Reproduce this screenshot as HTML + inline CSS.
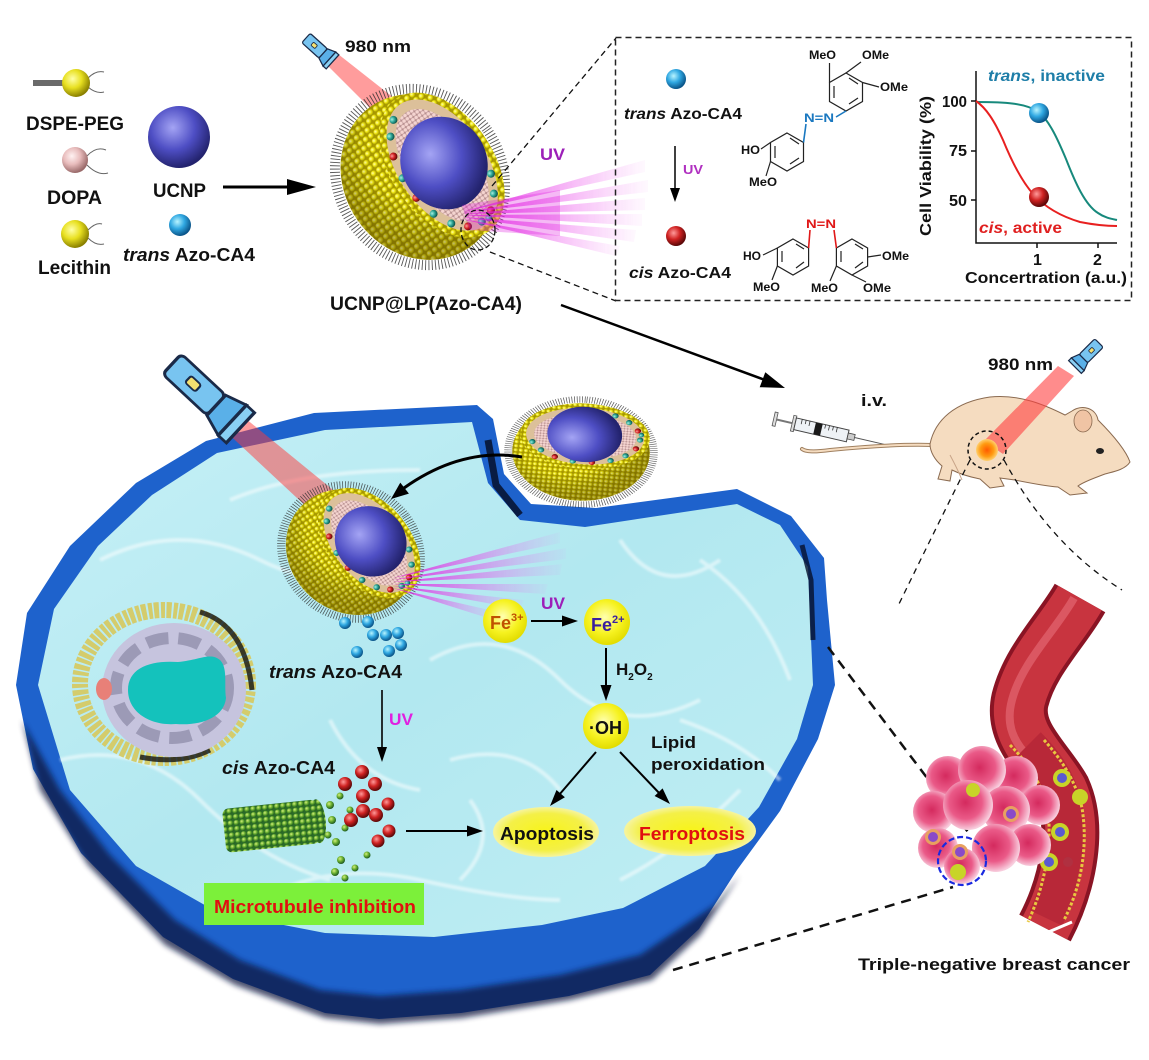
<!DOCTYPE html>
<html><head><meta charset="utf-8"><style>
html,body{margin:0;padding:0;background:#fff;}
svg{display:block;}
text{font-family:"Liberation Sans",Arial,sans-serif;font-weight:bold;fill:#111;}
</style></head><body>
<svg width="1149" height="1060" viewBox="0 0 1149 1060" xmlns="http://www.w3.org/2000/svg" xmlns:xlink="http://www.w3.org/1999/xlink">
<defs>
<radialGradient id="yg" cx="0.38" cy="0.35" r="0.65"><stop offset="0" stop-color="#ffffb8"/><stop offset="0.45" stop-color="#f2ea14"/><stop offset="1" stop-color="#9c8e00"/></radialGradient>
<pattern id="yd" width="6.5" height="6.5" patternUnits="userSpaceOnUse"><rect width="6.5" height="6.5" fill="#a89800"/><circle cx="3.25" cy="3.25" r="3.1" fill="url(#yg)"/></pattern>
<pattern id="pd" width="4" height="4" patternUnits="userSpaceOnUse"><rect width="4" height="4" fill="#b89090"/><circle cx="2" cy="2" r="1.8" fill="#f4d4d0"/></pattern>
<radialGradient id="gg" cx="0.38" cy="0.35" r="0.65"><stop offset="0" stop-color="#d8f080"/><stop offset="0.5" stop-color="#6ab030"/><stop offset="1" stop-color="#1e5a20"/></radialGradient>
<pattern id="gd" width="6" height="6" patternUnits="userSpaceOnUse"><rect width="6" height="6" fill="#2a6a28"/><circle cx="3" cy="3" r="2.9" fill="url(#gg)"/></pattern>
<radialGradient id="shade" cx="0.62" cy="0.38" r="0.6"><stop offset="0.6" stop-color="#000" stop-opacity="0"/><stop offset="1" stop-color="#403000" stop-opacity="0.35"/></radialGradient>
<radialGradient id="purp" cx="0.4" cy="0.35" r="0.65"><stop offset="0" stop-color="#a4a4f4"/><stop offset="0.55" stop-color="#4e4ec4"/><stop offset="1" stop-color="#23236e"/></radialGradient>
<radialGradient id="ball-y" cx="0.38" cy="0.35" r="0.65"><stop offset="0" stop-color="#ffffa8"/><stop offset="0.5" stop-color="#e8e020"/><stop offset="1" stop-color="#8a8000"/></radialGradient>
<radialGradient id="ball-p" cx="0.38" cy="0.35" r="0.65"><stop offset="0" stop-color="#fff2f2"/><stop offset="0.5" stop-color="#e8bcbc"/><stop offset="1" stop-color="#9a6a6a"/></radialGradient>
<radialGradient id="ball-b" cx="0.38" cy="0.35" r="0.65"><stop offset="0" stop-color="#b8f4ff"/><stop offset="0.5" stop-color="#30a8e2"/><stop offset="1" stop-color="#0a5488"/></radialGradient>
<radialGradient id="ball-r" cx="0.38" cy="0.35" r="0.65"><stop offset="0" stop-color="#ff9a9a"/><stop offset="0.5" stop-color="#d02222"/><stop offset="1" stop-color="#5a0808"/></radialGradient>
<radialGradient id="ball-t" cx="0.38" cy="0.35" r="0.65"><stop offset="0" stop-color="#a8f0e0"/><stop offset="0.5" stop-color="#30a898"/><stop offset="1" stop-color="#0a5048"/></radialGradient>
<radialGradient id="fe" cx="0.45" cy="0.4" r="0.6"><stop offset="0" stop-color="#ffffb0"/><stop offset="0.6" stop-color="#f6f220"/><stop offset="1" stop-color="#e2dc00"/></radialGradient>
<radialGradient id="ell" cx="0.5" cy="0.5" r="0.5"><stop offset="0" stop-color="#f8f418"/><stop offset="0.75" stop-color="#f4f048"/><stop offset="1" stop-color="#f6f4a0"/></radialGradient>
<radialGradient id="tum" cx="0.45" cy="0.45" r="0.55"><stop offset="0" stop-color="#d42a5e"/><stop offset="0.6" stop-color="#ea5a88"/><stop offset="1" stop-color="#f8cede"/></radialGradient>
<radialGradient id="spot" cx="0.5" cy="0.5" r="0.5"><stop offset="0" stop-color="#ff5a00"/><stop offset="0.6" stop-color="#ff9a10"/><stop offset="1" stop-color="#ffd070"/></radialGradient>
<linearGradient id="cyt" x1="0" y1="0" x2="1" y2="1"><stop offset="0" stop-color="#c6f0f6"/><stop offset="0.5" stop-color="#b2e8f0"/><stop offset="1" stop-color="#c0eef4"/></linearGradient>
<linearGradient id="mag" x1="0" y1="0" x2="1" y2="0"><stop offset="0" stop-color="#e010e0" stop-opacity="0.95"/><stop offset="1" stop-color="#f070f0" stop-opacity="0.05"/></linearGradient>
<filter id="blur3"><feGaussianBlur stdDeviation="3"/></filter>
<filter id="blur1"><feGaussianBlur stdDeviation="1"/></filter>
<g id="np">
  <ellipse rx="82" ry="91" transform="rotate(-35)" fill="none" stroke="#2a2a2a" stroke-width="10" stroke-dasharray="0.9 2.4" opacity="0.8"/>
  <ellipse rx="76" ry="86" transform="rotate(-35)" fill="url(#yd)"/>
  <ellipse rx="76" ry="86" transform="rotate(-35)" fill="url(#shade)"/>
  <g transform="rotate(-35) translate(25,3)">
    <ellipse rx="51" ry="81" fill="url(#yd)"/>
    <ellipse rx="44" ry="74" fill="#dcc09a"/>
    <ellipse rx="35" ry="64" fill="url(#pd)"/>
    <circle cx="0" cy="69" r="4" fill="url(#ball-t)"/>
    <circle cx="-14" cy="65" r="4" fill="url(#ball-r)"/>
    <circle cx="-26" cy="53" r="4" fill="url(#ball-t)"/>
    <circle cx="-35" cy="35" r="4" fill="url(#ball-t)"/>
    <circle cx="-40" cy="12" r="4" fill="url(#ball-r)"/>
    <circle cx="-40" cy="-12" r="4" fill="url(#ball-t)"/>
    <circle cx="-35" cy="-35" r="4" fill="url(#ball-r)"/>
    <circle cx="-26" cy="-53" r="4" fill="url(#ball-t)"/>
    <circle cx="-14" cy="-65" r="4" fill="url(#ball-t)"/>
    <circle cx="14" cy="65" r="4" fill="url(#ball-r)"/>
    <circle cx="26" cy="53" r="4" fill="url(#ball-t)"/>
    <circle cx="35" cy="35" r="4" fill="url(#ball-t)"/>
    <circle cx="8" cy="70" r="3.5" fill="url(#ball-t)"/>
  </g>
  <ellipse cx="24" cy="-14" rx="43" ry="47" transform="rotate(-25 24 -14)" fill="url(#purp)"/>
</g>
<g id="flash">
  <rect x="0" y="-6" width="22" height="12" rx="2" fill="#78c4f0" stroke="#1a2a48" stroke-width="1.2"/>
  <path d="M22,-6 L30,-9 L30,9 L22,6 Z" fill="#5ab0e8" stroke="#1a2a48" stroke-width="1.2"/>
  <rect x="30" y="-9" width="4" height="18" fill="#8ad0f4" stroke="#1a2a48" stroke-width="1.2"/>
  <rect x="8" y="-2" width="5" height="4" rx="1" fill="#f4e070" stroke="#1a2a48" stroke-width="0.8"/>
</g>
</defs>

<!-- ================= TOP LEFT LEGEND ================= -->
<rect x="33" y="80" width="30" height="6" fill="#6a6a6a"/>
<path d="M88,78 Q96,70 104,72 M88,87 Q96,94 104,92" stroke="#666" stroke-width="1" fill="none"/>
<circle cx="76" cy="83" r="14" fill="url(#ball-y)"/>
<text x="26" y="130" font-size="19" textLength="98" lengthAdjust="spacingAndGlyphs">DSPE-PEG</text>
<path d="M87,156 Q96,146 106,150 M87,165 Q98,176 108,173" stroke="#666" stroke-width="1" fill="none"/>
<circle cx="75" cy="160" r="13" fill="url(#ball-p)"/>
<text x="47" y="204" font-size="19" textLength="55" lengthAdjust="spacingAndGlyphs">DOPA</text>
<path d="M88,230 Q96,222 102,224 M88,238 Q96,246 104,244" stroke="#666" stroke-width="1" fill="none"/>
<circle cx="75" cy="234" r="14" fill="url(#ball-y)"/>
<text x="38" y="274" font-size="19" textLength="73" lengthAdjust="spacingAndGlyphs">Lecithin</text>
<circle cx="179" cy="137" r="31" fill="url(#purp)"/>
<text x="153" y="197" font-size="19" textLength="53" lengthAdjust="spacingAndGlyphs">UCNP</text>
<circle cx="180" cy="225" r="11" fill="url(#ball-b)"/>
<text x="123" y="261" font-size="18" textLength="132" lengthAdjust="spacingAndGlyphs"><tspan font-style="italic">trans</tspan> Azo-CA4</text>
<line x1="223" y1="187" x2="292" y2="187" stroke="#000" stroke-width="3"/>
<polygon points="287,179 316,187 287,195" fill="#000"/>

<!-- ================= TOP NANOPARTICLE ================= -->
<polygon points="324,62 338,54 432,128 412,150" fill="#ff4a4a" opacity="0.55"/>
<use xlink:href="#flash" href="#flash" transform="translate(306,38) rotate(42) scale(1.05)"/>
<text x="345" y="52" font-size="17" textLength="66" lengthAdjust="spacingAndGlyphs">980 nm</text>
<use xlink:href="#np" href="#np" transform="translate(420,177)"/>
<g opacity="0.9">
<polygon points="462,212 645,160 645,172" fill="url(#mag)"/>
<polygon points="462,213 648,180 648,192" fill="url(#mag)"/>
<polygon points="462,214 645,198 645,210" fill="url(#mag)"/>
<polygon points="462,215 642,214 642,226" fill="url(#mag)"/>
<polygon points="462,217 636,230 634,242" fill="url(#mag)"/>
<polygon points="462,219 620,246 616,256" fill="url(#mag)"/>
<polygon points="462,205 560,190 560,236 470,230" fill="#e020e0" opacity="0.35"/>
</g>
<text x="540" y="160" font-size="17" textLength="25" lengthAdjust="spacingAndGlyphs" style="fill:#9c1fb8">UV</text>
<ellipse cx="478" cy="230" rx="17" ry="20" fill="none" stroke="#111" stroke-width="1.3" stroke-dasharray="5 3"/>
<line x1="492" y1="186" x2="616" y2="38" stroke="#111" stroke-width="1.3" stroke-dasharray="6 4"/>
<line x1="490" y1="252" x2="616" y2="301" stroke="#111" stroke-width="1.3" stroke-dasharray="6 4"/>
<text x="330" y="310" font-size="19" textLength="192" lengthAdjust="spacingAndGlyphs">UCNP@LP(Azo-CA4)</text>

<!-- ================= DASHED BOX ================= -->
<rect x="615.5" y="37.5" width="516" height="263" fill="none" stroke="#222" stroke-width="1.5" stroke-dasharray="6 4"/>
<circle cx="676" cy="79" r="10" fill="url(#ball-b)"/>
<text x="624" y="119" font-size="16" textLength="118" lengthAdjust="spacingAndGlyphs"><tspan font-style="italic">trans</tspan> Azo-CA4</text>
<line x1="675" y1="146" x2="675" y2="190" stroke="#000" stroke-width="1.5"/>
<polygon points="670,188 680,188 675,202" fill="#000"/>
<text x="683" y="174" font-size="13" textLength="20" lengthAdjust="spacingAndGlyphs" style="fill:#b030c0">UV</text>
<circle cx="676" cy="236" r="10" fill="url(#ball-r)"/>
<text x="629" y="278" font-size="16" textLength="102" lengthAdjust="spacingAndGlyphs"><tspan font-style="italic">cis</tspan> Azo-CA4</text>

<g stroke="#222" stroke-width="1.2" fill="none">
<polygon points="846,73 862.5,82.5 862.5,101.5 846,111 829.5,101.5 829.5,82.5"/>
<path d="M849,78 L858,84 M858,98 L849,104 M834,98 L834,86"/>
<path d="M829.5,82.5 L829.5,63 M846,73 L861,62 M862.5,82.5 L879,87"/>
<polygon points="787,133 803.5,142.5 803.5,161.5 787,171 770.5,161.5 770.5,142.5"/>
<path d="M790,138 L799,144 M799,158 L790,164 M775,158 L775,146"/>
<path d="M770.5,142.5 L761,149 M770.5,161.5 L766,176"/>
<polygon points="793,239 808.6,248 808.6,266 793,275 777.4,266 777.4,248"/>
<path d="M796,244 L804,249 M804,262 L796,268 M782,262 L782,251"/>
<path d="M777.4,248 L763,255 M777.4,266 L772,280"/>
<polygon points="852,239 867.6,248 867.6,266 852,275 836.4,266 836.4,248"/>
<path d="M855,244 L863,249 M863,262 L855,268 M841,262 L841,251"/>
<path d="M867.6,257 L881,255 M836.4,266 L830,281 M852,275 L866,282"/>
</g>
<path d="M846,111 L836,117 M806,124 L803.5,142.5" stroke="#1a78c0" stroke-width="1.6"/>
<path d="M810,230 L808.6,248 M834,230 L836.4,248" stroke="#e01818" stroke-width="1.6"/>
<g font-size="11.5">
<text x="809" y="59" textLength="27" lengthAdjust="spacingAndGlyphs">MeO</text>
<text x="862" y="59" textLength="27" lengthAdjust="spacingAndGlyphs">OMe</text>
<text x="880" y="91" textLength="28" lengthAdjust="spacingAndGlyphs">OMe</text>
<text x="804" y="122" textLength="30" lengthAdjust="spacingAndGlyphs" style="fill:#1a78c0">N=N</text>
<text x="741" y="154" textLength="19" lengthAdjust="spacingAndGlyphs">HO</text>
<text x="749" y="186" textLength="28" lengthAdjust="spacingAndGlyphs">MeO</text>
<text x="806" y="228" textLength="30" lengthAdjust="spacingAndGlyphs" style="fill:#e01818">N=N</text>
<text x="743" y="260" textLength="18" lengthAdjust="spacingAndGlyphs">HO</text>
<text x="753" y="291" textLength="27" lengthAdjust="spacingAndGlyphs">MeO</text>
<text x="882" y="260" textLength="27" lengthAdjust="spacingAndGlyphs">OMe</text>
<text x="811" y="292" textLength="27" lengthAdjust="spacingAndGlyphs">MeO</text>
<text x="863" y="292" textLength="28" lengthAdjust="spacingAndGlyphs">OMe</text>
</g>

<path d="M976,71 L976,243 L1117,243" fill="none" stroke="#111" stroke-width="1.5"/>
<path d="M976,101 L971,101 M976,151 L971,151 M976,200 L971,200 M1037,243 L1037,248 M1098,243 L1098,248" stroke="#111" stroke-width="1.5"/>
<text x="942" y="107" font-size="16" textLength="25" lengthAdjust="spacingAndGlyphs">100</text>
<text x="949" y="156" font-size="16" textLength="18" lengthAdjust="spacingAndGlyphs">75</text>
<text x="949" y="206" font-size="16" textLength="18" lengthAdjust="spacingAndGlyphs">50</text>
<text x="1033" y="265" font-size="16">1</text>
<text x="1093" y="265" font-size="16">2</text>
<text x="965" y="283" font-size="16" textLength="162" lengthAdjust="spacingAndGlyphs">Concertration (a.u.)</text>
<text transform="translate(931,166) rotate(-90)" x="0" y="0" font-size="16" text-anchor="middle" textLength="140" lengthAdjust="spacingAndGlyphs">Cell Viability (%)</text>
<path d="M976,102 C1005,102 1025,103 1039,112 C1050,122 1058,140 1066,159 C1075,182 1085,205 1098,213 C1105,218 1112,219 1117,220" fill="none" stroke="#17897c" stroke-width="2"/>
<path d="M976,101 C986,108 994,120 1003,140 C1012,162 1022,182 1034,195 C1045,207 1060,216 1080,222 C1095,225 1108,226 1117,226" fill="none" stroke="#e82020" stroke-width="2"/>
<circle cx="1039" cy="113" r="10" fill="url(#ball-b)"/>
<circle cx="1039" cy="197" r="10" fill="url(#ball-r)"/>
<text x="988" y="81" font-size="16" textLength="117" lengthAdjust="spacingAndGlyphs" style="fill:#1e7ea8"><tspan font-style="italic" style="fill:#1e7ea8">trans</tspan>, inactive</text>
<text x="979" y="233" font-size="16" textLength="83" lengthAdjust="spacingAndGlyphs" style="fill:#e02020"><tspan font-style="italic" style="fill:#e02020">cis</tspan>, active</text>

<line x1="561" y1="305" x2="765" y2="380" stroke="#000" stroke-width="2.5"/>
<polygon points="759.7,387.2 765.3,372.2 785,388" fill="#000"/>

<!-- ================= MOUSE ================= -->
<g transform="translate(775,413) rotate(13)">
  <rect x="0" y="-1" width="3" height="14" fill="#ddd" stroke="#555" stroke-width="0.8"/>
  <line x1="3" y1="6" x2="22" y2="6" stroke="#777" stroke-width="2"/>
  <rect x="19" y="-2" width="3" height="16" fill="#ddd" stroke="#555" stroke-width="0.8"/>
  <rect x="22" y="0" width="54" height="12" fill="#eef2f6" stroke="#444" stroke-width="1"/>
  <rect x="42" y="0" width="7" height="12" fill="#1a1a1a"/>
  <path d="M28,0 L28,5 M32,0 L32,4 M36,0 L36,5 M52,0 L52,4 M56,0 L56,5 M60,0 L60,4 M64,0 L64,5" stroke="#333" stroke-width="0.8"/>
  <rect x="76" y="3" width="7" height="6" fill="#ccc" stroke="#444" stroke-width="0.8"/>
  <line x1="83" y1="6" x2="116" y2="6" stroke="#555" stroke-width="1"/>
</g>
<text x="861" y="406" font-size="17" textLength="26" lengthAdjust="spacingAndGlyphs">i.v.</text>
<path d="M932,445 C900,444 860,447 830,450 C815,452 806,452 802,449" fill="none" stroke="#a08060" stroke-width="4" stroke-linecap="round"/>
<path d="M932,445 C900,444 860,447 830,450 C815,452 806,452 802,449" fill="none" stroke="#f5dcc0" stroke-width="2" stroke-linecap="round"/>
<path d="M930,444 C935,420 955,402 990,397 C1020,394 1045,405 1065,415 L1072,411 C1082,404 1096,408 1098,420 C1110,432 1125,448 1130,462 C1125,470 1112,472 1105,474 C1095,478 1085,481 1078,486 L1087,493 L1070,495 L1058,487 C1045,486 1030,483 1015,480 L1000,478 L1004,486 L990,488 L980,479 C970,477 960,474 952,470 L950,481 L938,479 L942,466 C935,460 930,452 930,444 Z" fill="#f5dcc0" stroke="#8a6a50" stroke-width="1"/>
<ellipse cx="1083" cy="421" rx="9" ry="11" fill="#f0c4a4" stroke="#8a6a50" stroke-width="0.8"/>
<ellipse cx="1100" cy="451" rx="4" ry="3" fill="#222"/>
<path d="M950,455 Q958,470 962,480" fill="none" stroke="#c8a488" stroke-width="1"/>
<polygon points="1058,366 1074,376 1003,454 984,441" fill="#ff4040" opacity="0.6"/>
<use xlink:href="#flash" href="#flash" transform="translate(1099,343) rotate(135) scale(1.0)"/>
<text x="988" y="370" font-size="17" textLength="65" lengthAdjust="spacingAndGlyphs">980 nm</text>
<circle cx="987" cy="450" r="11" fill="url(#spot)"/>
<circle cx="987" cy="450" r="19" fill="none" stroke="#111" stroke-width="1.5" stroke-dasharray="4 3"/>
<path d="M970,460 Q935,530 898,606" fill="none" stroke="#111" stroke-width="1.3" stroke-dasharray="6 5"/>
<path d="M1004,460 Q1050,545 1122,590" fill="none" stroke="#111" stroke-width="1.3" stroke-dasharray="6 5"/>

<!-- ================= CELL ================= -->
<path d="M136,483 L206,441 L314,413 L477,405 L493,419 L504,474 L531,504 L596,508 L737,489 L791,516 L824,558 L827,600 L835,685 L818,739 L780,811 L737,870 L699,929 L650,975 L569,996 L461,1013 L379,1019 L325,1013 L233,979 L163,937 L81,853 L33,769 L16,685 L27,613 L70,546 Z" fill="#1e62cc"/>
<path d="M22,720 L40,790 L88,865 L165,945 L235,985 L325,1018 L380,1024 L462,1018 L570,1000 L652,980 L700,935 L740,875 L715,905 L640,955 L560,975 L460,990 L380,996 L320,990 L240,960 L175,920 L110,855 L60,790 Z" fill="#071840" opacity="0.75" filter="url(#blur3)"/>
<path d="M152,495 L217,453 L325,430 L472,422 L488,483 L520,520 L585,527 L737,504 L780,525 L808,567 L813,685 L797,739 L759,807 L705,866 L623,908 L542,925 L434,937 L325,933 L217,912 L136,866 L70,790 L38,685 L54,609 L98,546 Z" fill="url(#cyt)"/>
<path d="M488,440 L496,485 L520,515" fill="none" stroke="#06102a" stroke-width="7" opacity="0.85"/>
<path d="M802,545 L811,580 L813,640" fill="none" stroke="#06102a" stroke-width="5" opacity="0.8"/>
<g stroke="#ffffff" stroke-width="4" fill="none" opacity="0.5" filter="url(#blur1)">
<path d="M100,560 Q180,520 260,560 T420,560"/>
<path d="M60,760 Q140,740 200,800 T330,880"/>
<path d="M430,660 Q500,620 560,680 T700,700"/>
<path d="M450,760 Q520,740 560,790"/>
<path d="M700,560 Q760,600 790,680"/>
<path d="M260,900 Q330,860 420,880 T560,900"/>
<path d="M620,880 Q680,850 740,790"/>
<path d="M330,720 Q360,780 420,790"/>
<path d="M230,500 Q300,470 420,470"/>
<path d="M680,720 Q740,740 780,780"/>
<path d="M460,880 Q500,840 470,800"/>
<path d="M620,540 Q660,600 720,560"/>
</g>

<!-- nucleus -->
<ellipse cx="164" cy="684" rx="84" ry="74" fill="none" stroke="#d4cc6c" stroke-width="16" stroke-dasharray="5 2 4 1.5"/>
<path d="M200,612 Q245,625 252,690 M210,750 Q180,765 140,757" fill="none" stroke="#111" stroke-width="5" opacity="0.8"/>
<ellipse cx="174" cy="690" rx="72" ry="67" fill="#c6c4de"/>
<ellipse cx="172" cy="688" rx="56" ry="50" fill="none" stroke="#9c9ab6" stroke-width="12" stroke-dasharray="22 10"/>
<ellipse cx="104" cy="689" rx="8" ry="11" fill="#e88078"/>
<path d="M128,690 C128,668 150,660 178,662 C200,660 210,652 220,660 C228,668 224,684 226,698 C224,718 200,726 176,724 C150,726 128,712 128,690 Z" fill="#14c2bc"/>

<!-- cell nanoparticle & beams -->
<polygon points="222,428 240,414 365,516 342,540" fill="#ff3a3a" opacity="0.5"/>
<use xlink:href="#flash" href="#flash" transform="translate(172,364) rotate(43) scale(2.75,2.3)"/>
<use xlink:href="#np" href="#np" transform="translate(351,552) scale(0.82,0.76)"/>
<g opacity="0.9">
<polygon points="393,578 560,532 560,543" fill="url(#mag)"/>
<polygon points="393,580 566,548 566,559" fill="url(#mag)"/>
<polygon points="393,582 562,564 560,575" fill="url(#mag)"/>
<polygon points="393,584 548,584 545,594" fill="url(#mag)"/>
<polygon points="393,586 524,600 520,609" fill="url(#mag)"/>
<polygon points="393,588 498,612 494,620" fill="url(#mag)"/>
</g>
<g>
<circle cx="345" cy="623" r="6" fill="url(#ball-b)"/>
<circle cx="368" cy="622" r="6" fill="url(#ball-b)"/>
<circle cx="373" cy="635" r="6" fill="url(#ball-b)"/>
<circle cx="386" cy="635" r="6" fill="url(#ball-b)"/>
<circle cx="398" cy="633" r="6" fill="url(#ball-b)"/>
<circle cx="357" cy="652" r="6" fill="url(#ball-b)"/>
<circle cx="389" cy="651" r="6" fill="url(#ball-b)"/>
<circle cx="401" cy="645" r="6" fill="url(#ball-b)"/>
</g>

<use xlink:href="#np" href="#np" transform="translate(581,452) scale(0.8,0.64) rotate(-50)"/>
<path d="M522,457 Q462,447 404,488" fill="none" stroke="#000" stroke-width="3"/>
<polygon points="408.9,493.6 400.3,482.6 391,499" fill="#000"/>

<text x="269" y="678" font-size="18" textLength="133" lengthAdjust="spacingAndGlyphs"><tspan font-style="italic">trans</tspan> Azo-CA4</text>
<line x1="382" y1="690" x2="382" y2="750" stroke="#000" stroke-width="1.6"/>
<polygon points="377,747 387,747 382,762" fill="#000"/>
<text x="389" y="725" font-size="17" textLength="24" lengthAdjust="spacingAndGlyphs" style="fill:#e020e0">UV</text>
<text x="222" y="774" font-size="18" textLength="113" lengthAdjust="spacingAndGlyphs"><tspan font-style="italic">cis</tspan> Azo-CA4</text>

<g transform="rotate(-6 272 826)">
<rect x="224" y="804" width="94" height="44" rx="6" fill="url(#gd)"/>
<ellipse cx="318" cy="826" rx="8" ry="22" fill="url(#gd)"/>
</g>
<g>
<circle cx="330" cy="805" r="4" fill="url(#gg)"/><circle cx="340" cy="796" r="3.5" fill="url(#gg)"/>
<circle cx="332" cy="820" r="4" fill="url(#gg)"/><circle cx="345" cy="828" r="3.5" fill="url(#gg)"/>
<circle cx="336" cy="842" r="4" fill="url(#gg)"/><circle cx="328" cy="835" r="3.5" fill="url(#gg)"/>
<circle cx="341" cy="860" r="4" fill="url(#gg)"/><circle cx="335" cy="872" r="4" fill="url(#gg)"/>
<circle cx="345" cy="878" r="3.5" fill="url(#gg)"/><circle cx="355" cy="868" r="3.5" fill="url(#gg)"/>
<circle cx="367" cy="855" r="3.5" fill="url(#gg)"/><circle cx="350" cy="810" r="3.5" fill="url(#gg)"/>
</g>
<g>
<circle cx="362" cy="772" r="7" fill="url(#ball-r)"/>
<circle cx="345" cy="784" r="7" fill="url(#ball-r)"/>
<circle cx="375" cy="784" r="7" fill="url(#ball-r)"/>
<circle cx="363" cy="796" r="7" fill="url(#ball-r)"/>
<circle cx="388" cy="804" r="6.5" fill="url(#ball-r)"/>
<circle cx="363" cy="811" r="7" fill="url(#ball-r)"/>
<circle cx="376" cy="815" r="7" fill="url(#ball-r)"/>
<circle cx="351" cy="820" r="7" fill="url(#ball-r)"/>
<circle cx="389" cy="831" r="6.5" fill="url(#ball-r)"/>
<circle cx="378" cy="841" r="6.5" fill="url(#ball-r)"/>
</g>
<line x1="406" y1="831" x2="470" y2="831" stroke="#000" stroke-width="2"/>
<polygon points="467,825.5 467,836.5 483,831" fill="#000"/>
<rect x="204" y="883" width="220" height="42" fill="#7cf03a"/>
<text x="214" y="913" font-size="18" textLength="202" lengthAdjust="spacingAndGlyphs" style="fill:#e01010">Microtubule inhibition</text>

<circle cx="505" cy="621" r="22" fill="url(#fe)"/>
<text x="490" y="629" font-size="18" style="fill:#c05000">Fe<tspan font-size="11" dy="-8" style="fill:#c05000">3+</tspan></text>
<line x1="531" y1="621" x2="566" y2="621" stroke="#000" stroke-width="2"/>
<polygon points="562,615.5 562,626.5 578,621" fill="#000"/>
<text x="541" y="609" font-size="17" textLength="24" lengthAdjust="spacingAndGlyphs" style="fill:#9c1fb8">UV</text>
<circle cx="607" cy="622" r="23" fill="url(#fe)"/>
<text x="591" y="631" font-size="18" style="fill:#3a1ea0">Fe<tspan font-size="11" dy="-8" style="fill:#3a1ea0">2+</tspan></text>
<line x1="606" y1="648" x2="606" y2="688" stroke="#000" stroke-width="2"/>
<polygon points="600.5,685 611.5,685 606,701" fill="#000"/>
<text x="616" y="675" font-size="17">H<tspan font-size="10" dy="5">2</tspan><tspan dy="-5">O</tspan><tspan font-size="10" dy="5">2</tspan></text>
<circle cx="606" cy="726" r="23" fill="url(#fe)"/>
<text x="589" y="734" font-size="18">·OH</text>
<text x="651" y="748" font-size="17" textLength="45" lengthAdjust="spacingAndGlyphs">Lipid</text>
<text x="651" y="770" font-size="17" textLength="114" lengthAdjust="spacingAndGlyphs">peroxidation</text>
<line x1="596" y1="752" x2="559" y2="795" stroke="#000" stroke-width="2"/>
<polygon points="564.9,797.2 556.5,790 550,806" fill="#000"/>
<line x1="620" y1="752" x2="661" y2="795" stroke="#000" stroke-width="2"/>
<polygon points="654.6,796 662.6,788.4 670,804" fill="#000"/>
<ellipse cx="546" cy="832" rx="53" ry="25" fill="url(#ell)"/>
<text x="500" y="840" font-size="18" textLength="94" lengthAdjust="spacingAndGlyphs">Apoptosis</text>
<ellipse cx="690" cy="831" rx="66" ry="25" fill="url(#ell)"/>
<text x="639" y="840" font-size="18" textLength="106" lengthAdjust="spacingAndGlyphs" style="fill:#e01010">Ferroptosis</text>

<!-- ================= VESSEL & TUMOR ================= -->
<line x1="828" y1="647" x2="968" y2="832" stroke="#111" stroke-width="2.5" stroke-dasharray="10 7"/>
<path d="M1080,598 C1062,630 1030,660 1020,700 C1012,735 1045,760 1062,790 C1078,825 1070,880 1045,928" fill="none" stroke="#8a1424" stroke-width="58"/>
<path d="M1080,598 C1062,630 1030,660 1020,700 C1012,735 1045,760 1062,790 C1078,825 1070,880 1045,928" fill="none" stroke="#c8343f" stroke-width="50"/>
<path d="M1074,598 C1056,630 1022,662 1012,700 C1006,722 1012,738 1024,752" fill="none" stroke="#e8707a" stroke-width="8" opacity="0.6"/>
<path d="M1028,745 C1045,762 1058,780 1064,805 C1070,840 1064,880 1046,918" fill="none" stroke="#b82838" stroke-width="36"/>
<path d="M1010,745 C1030,765 1042,785 1048,810 C1052,845 1045,885 1028,922" fill="none" stroke="#e8c840" stroke-width="3" stroke-dasharray="3 2"/>
<path d="M1044,740 C1062,760 1076,782 1082,808 C1088,845 1082,885 1064,920" fill="none" stroke="#e8c840" stroke-width="3" stroke-dasharray="3 2"/>
<path d="M1005,918 L1025,942 L1072,922" fill="none" stroke="#fff" stroke-width="3"/>
<g>
<circle cx="1062" cy="778" r="9" fill="#c8d428"/><circle cx="1062" cy="778" r="5" fill="#5a5ad0"/>
<circle cx="1080" cy="797" r="8" fill="#c8d428"/>
<circle cx="1060" cy="832" r="9" fill="#c8d428"/><circle cx="1060" cy="832" r="5" fill="#5a5ad0"/>
<circle cx="1049" cy="862" r="9" fill="#c8d428"/><circle cx="1049" cy="862" r="5" fill="#5a5ad0"/>
<circle cx="1068" cy="862" r="5" fill="#b03040"/>
</g>
<g>
<circle cx="948" cy="778" r="22" fill="url(#tum)"/>
<circle cx="1016" cy="778" r="22" fill="url(#tum)"/>
<circle cx="982" cy="770" r="24" fill="url(#tum)"/>
<circle cx="1040" cy="805" r="20" fill="url(#tum)"/>
<circle cx="934" cy="812" r="21" fill="url(#tum)"/>
<circle cx="1006" cy="810" r="24" fill="url(#tum)"/>
<circle cx="968" cy="805" r="25" fill="url(#tum)"/>
<circle cx="1030" cy="845" r="21" fill="url(#tum)"/>
<circle cx="938" cy="848" r="20" fill="url(#tum)"/>
<circle cx="996" cy="848" r="24" fill="url(#tum)"/>
<circle cx="962" cy="866" r="18" fill="url(#tum)"/>
</g>
<circle cx="973" cy="790" r="7" fill="#c8d428"/>
<circle cx="1011" cy="814" r="8" fill="#e8a060"/><circle cx="1011" cy="814" r="5" fill="#8a4ac8"/>
<circle cx="933" cy="837" r="8" fill="#e8a060"/><circle cx="933" cy="837" r="5" fill="#8a4ac8"/>
<circle cx="960" cy="852" r="8" fill="#e8a060"/><circle cx="960" cy="852" r="5" fill="#8a4ac8"/>
<circle cx="958" cy="872" r="8" fill="#c8d428"/>
<circle cx="962" cy="861" r="24" fill="none" stroke="#1a2ae0" stroke-width="2.2" stroke-dasharray="6 3"/>
<line x1="673" y1="970" x2="953" y2="887" stroke="#111" stroke-width="2.5" stroke-dasharray="10 7"/>
<text x="858" y="970" font-size="17" textLength="272" lengthAdjust="spacingAndGlyphs">Triple-negative breast cancer</text>
</svg>
</body></html>
